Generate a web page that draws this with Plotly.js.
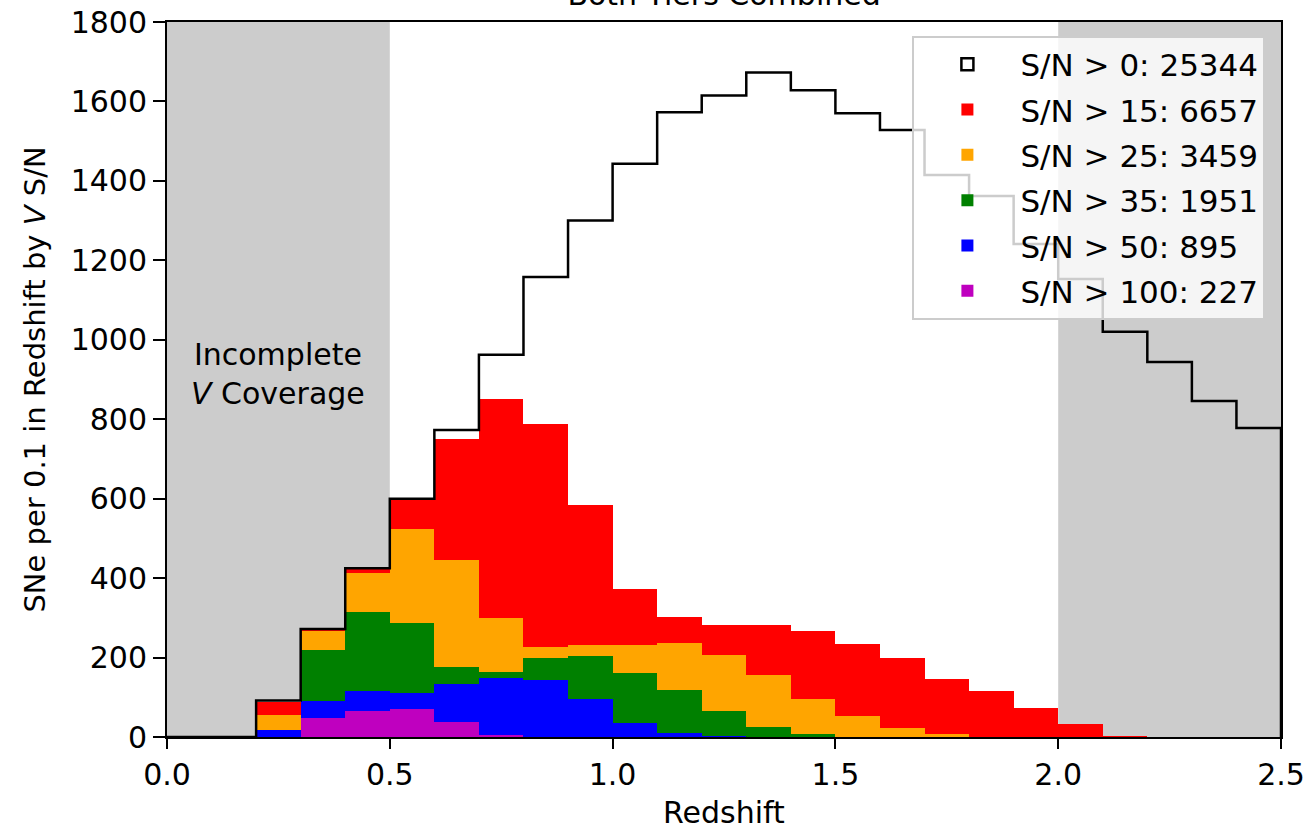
<!DOCTYPE html>
<html>
<head>
<meta charset="utf-8">
<script src="https://cdn.plot.ly/plotly-3.0.1.min.js"></script>
<style>html,body{margin:0;padding:0;background:#fff;}#chart{width:1311px;height:830px;}</style>
</head>
<body>
<div id="chart"></div>
<script>
// Bin left edges (redshift, bin width 0.1)
const binLeft = [0.0,0.1,0.2,0.3,0.4,0.5,0.6,0.7,0.8,0.9,1.0,1.1,1.2,1.3,1.4,1.5,1.6,1.7,1.8,1.9,2.0,2.1,2.2,2.3,2.4];
const binWidth = 0.1;
const xMax = 2.5;

// Counts per bin
const snAll   = [0,0,92,272,425,600,773,962,1158,1300,1443,1573,1615,1673,1628,1570,1528,1415,1362,1241,1153,1020,944,846,778];
const sn15    = [0,0,88,270,423,597,750,852,788,584,373,302,282,282,267,234,199,146,116,73,33,2,0,0,0];
const sn25    = [0,0,56,268,414,524,446,300,227,232,232,237,206,156,96,53,23,7,1,0,0,0,0,0,0];
const sn35    = [0,0,18,219,315,288,175,164,200,204,161,118,65,25,7,1,0,0,0,0,0,0,0,0,0];
const sn50    = [0,0,18,90,115,111,134,149,144,96,35,10,2,0,0,0,0,0,0,0,0,0,0,0,0];
const sn100   = [0,0,0,49,65,70,38,5,0,0,0,0,0,0,0,0,0,0,0,0,0,0,0,0,0];

const legendNames = ["S/N > 0: 25344","S/N > 15: 6657","S/N > 25: 3459","S/N > 35: 1951","S/N > 50: 895","S/N > 100: 227"];
const fillColors = ["#ff0000","#ffa500","#008000","#0000ff","#bf00bf"];

const shadeRanges = [[0.0,0.5],[2.0,2.5]];
const xTicks = [0.0,0.5,1.0,1.5,2.0,2.5];
const yTicks = [0,200,400,600,800,1000,1200,1400,1600,1800];

const centers = binLeft.map(v => +(v + binWidth/2).toFixed(3));

const FONT = "DejaVu Sans, sans-serif";

const traces = [];
// legend-only entry for the outline histogram
traces.push({
  type: "bar", x: [null], y: [null], name: legendNames[0],
  marker: {color: "rgba(255,255,255,0)", line: {color: "#000", width: 2.5}},
  legendgroup: "g0", hoverinfo: "skip"
});
const series = [sn15, sn25, sn35, sn50, sn100];
series.forEach((s, i) => {
  traces.push({
    type: "bar", x: centers, y: s, width: binWidth, name: legendNames[i+1],
    marker: {color: fillColors[i], line: {width: 0}},
    legendgroup: "g" + (i+1)
  });
});
// step outline for S/N > 0
const stepX = [binLeft[0]].concat(binLeft, [xMax, xMax]);
const stepY = [0].concat(snAll, [snAll[snAll.length-1], 0]);
traces.push({
  type: "scatter", mode: "lines", x: stepX, y: stepY,
  line: {shape: "hv", color: "#000", width: 2.5},
  showlegend: false, hoverinfo: "skip"
});

const shapes = shadeRanges.map(r => ({
  type: "rect", xref: "x", yref: "paper", x0: r[0], x1: r[1], y0: 0, y1: 1,
  fillcolor: "#cccccc", line: {width: 0}, layer: "below"
}));

const layout = {
  width: 1311, height: 830,
  margin: {l: 167, r: 30, t: 22, b: 93, pad: 0},
  paper_bgcolor: "#fff", plot_bgcolor: "#fff",
  font: {family: FONT, size: 30, color: "#000"},
  barmode: "overlay",
  bargap: 0,
  title: {text: "Both Tiers Combined", font: {family: FONT, size: 30, color: "#000"},
          x: 0.5523, xanchor: "center", xref: "container", yref: "container", y: 0.994, yanchor: "bottom"},
  xaxis: {
    range: [0, xMax], tickvals: xTicks, ticktext: xTicks.map(v => v.toFixed(1)),
    showgrid: false, zeroline: false, showline: true, linecolor: "#000", linewidth: 2, mirror: true,
    ticks: "outside", ticklen: 10, tickwidth: 2, tickcolor: "#000",
    tickfont: {family: FONT, size: 30},
    title: {text: "Redshift", font: {family: FONT, size: 30}, standoff: 18}
  },
  yaxis: {
    range: [0, 1800], tickvals: yTicks,
    showgrid: false, zeroline: false, showline: true, linecolor: "#000", linewidth: 2, mirror: true,
    ticks: "outside", ticklen: 12, tickwidth: 2, tickcolor: "#000",
    tickfont: {family: FONT, size: 30},
    title: {text: "SNe per 0.1 in Redshift by <i>V</i> S/N", font: {family: FONT, size: 29}, standoff: 16}
  },
  shapes: shapes,
  annotations: [{
    xref: "x", yref: "y", x: 0.25, y: 915, showarrow: false,
    text: "Incomplete<br><i>V</i> Coverage", align: "center",
    font: {family: FONT, size: 30, color: "#000"}
  }],
  legend: {
    x: 0.986, xanchor: "right", y: 0.981, yanchor: "top",
    bgcolor: "rgba(255,255,255,0.8)", bordercolor: "#cccccc", borderwidth: 2,
    font: {family: FONT, size: 31, color: "#000"},
    traceorder: "grouped", tracegroupgap: 2, itemwidth: 96
  },
  showlegend: true
};

Plotly.newPlot("chart", traces, layout, {displayModeBar: false, staticPlot: true});
</script>
</body>
</html>
